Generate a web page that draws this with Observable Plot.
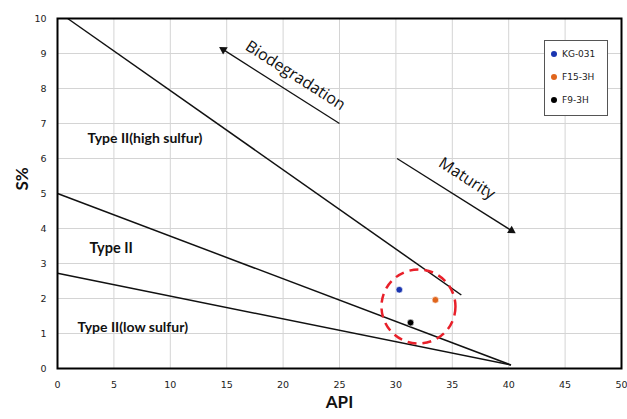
<!DOCTYPE html>
<html><head><meta charset="utf-8">
<script src="https://cdn.jsdelivr.net/npm/d3@7"></script>
<script src="https://cdn.jsdelivr.net/npm/@observablehq/plot@0.6"></script>
<style>
body{margin:0;background:#fff;}
#wrap{position:relative;width:627px;height:419px;}
#legend{position:absolute;left:544px;top:40px;width:64px;height:76px;border:1px solid #555;background:#fff;font:9px "DejaVu Sans",sans-serif;color:#222;box-sizing:border-box;}
#legend div{position:absolute;left:6px;height:10px;line-height:10px;white-space:nowrap;}
#legend span{display:inline-block;width:6px;height:6px;border-radius:50%;margin-right:5px;vertical-align:0px;}
</style></head>
<body><div id="wrap"><div id="legend"></div></div>
<script>
const xTicks = [0,5,10,15,20,25,30,35,40,45,50];
const yTicks = [0,1,2,3,4,5,6,7,8,9,10];

const lineName = ["Type II(high sulfur) boundary","Type II boundary","Type II(low sulfur) boundary"];
const lineX1 = [0.9, 0, 0];
const lineY1 = [10, 5, 2.72];
const lineX2 = [35.8, 40.2, 40.2];
const lineY2 = [2.1, 0.1, 0.1];

const sampleName = ["KG-031","F15-3H","F9-3H"];
const sampleAPI = [30.3, 33.5, 31.3];
const sampleS = [2.25, 1.96, 1.31];
const sampleColor = ["#1a35b0","#e0651c","#000000"];

const zoneLabel = ["Type II(high sulfur)","Type II","Type II(low sulfur)"];
const zoneX = [2.66, 2.84, 1.77];
const zoneY = [6.57, 3.43, 1.17];
const zoneSize = [14, 14.5, 14];

const arrowName = ["Biodegradation","Maturity"];
const arrowX1 = [25.0, 30.1];
const arrowY1 = [7.0, 6.0];
const arrowX2 = [14.7, 40.25];
const arrowY2 = [9.11, 3.94];
const arrowLabelX = [21.1, 36.3];
const arrowLabelY = [8.37, 5.43];
const arrowHeadRotate = [-57.5, 122.3];

const circleAPI = [32.0];
const circleS = [1.77];

const lines = lineName.map((n,i)=>({n,x1:lineX1[i],y1:lineY1[i],x2:lineX2[i],y2:lineY2[i]}));
const samples = sampleName.map((n,i)=>({n,x:sampleAPI[i],y:sampleS[i],c:sampleColor[i]}));
const zones = zoneLabel.map((t,i)=>({t,x:zoneX[i],y:zoneY[i],s:zoneSize[i]}));
const arrows = arrowName.map((n,i)=>({n,x1:arrowX1[i],y1:arrowY1[i],x2:arrowX2[i],y2:arrowY2[i],lx:arrowLabelX[i],ly:arrowLabelY[i],r:arrowHeadRotate[i]}));

const chart = Plot.plot({
  width: 627, height: 419,
  marginLeft: 57, marginRight: 6, marginTop: 18, marginBottom: 51,
  style: {fontFamily: "DejaVu Sans, sans-serif", fontSize: "9.5px", color: "#222", background: "#fff"},
  x: {domain: [0,50], ticks: xTicks, label: null, tickSize: 0, tickPadding: 13},
  y: {domain: [0,10], ticks: yTicks, label: null, tickSize: 0, tickPadding: 11},
  marks: [
    Plot.gridX(xTicks, {stroke: "#d4d4d4", strokeOpacity: 1}),
    Plot.gridY(yTicks, {stroke: "#d4d4d4", strokeOpacity: 1}),
    Plot.link(lines, {x1:"x1", y1:"y1", x2:"x2", y2:"y2", stroke:"#111", strokeWidth:1.5}),
    Plot.link(arrows, {x1:"x1", y1:"y1", x2:"x2", y2:"y2", stroke:"#111", strokeWidth:1.3}),
    Plot.dot(arrows, {x:"x2", y:"y2", symbol:"triangle", r:3.2, fill:"#111", rotate:"r"}),
    Plot.text(arrows, {x:"lx", y:"ly", text:"n", rotate:32.5, fontSize:16, fontFamily:"Open Sans, sans-serif", fill:"#111"}),
    Plot.text(zones, {x:"x", y:"y", text:"t", fontSize:"s", fontWeight:"bold", textAnchor:"start", fontFamily:"Lato, sans-serif", fill:"#111"}),
    Plot.dot(circleAPI.map((x,i)=>({x, y:circleS[i]})), {x:"x", y:"y", r:37, stroke:"#e8202a", strokeWidth:2.5, strokeDasharray:"9,6", fill:"none"}),
    Plot.dot(samples, {x:"x", y:"y", r:3.3, fill:"c", stroke:"#fff", strokeWidth:0.6}),
    Plot.frame({stroke:"#000", strokeWidth:2}),
    Plot.text(["API"], {frameAnchor:"bottom", dy:39, text:d=>d, fontSize:17, fontWeight:"bold", fontFamily:"Lato, sans-serif", fill:"#111"}),
    Plot.text(["S%"], {frameAnchor:"left", dx:-35, dy:-3, rotate:-90, text:d=>d, fontSize:17, fontWeight:"bold", fontFamily:"Lato, sans-serif", fill:"#111"})
  ]
});
const wrap = document.getElementById("wrap");
wrap.insertBefore(chart, wrap.firstChild);
chart.style.display = "block";
const lg = document.getElementById("legend");
samples.forEach((s,i)=>{
  const d = document.createElement("div");
  d.style.top = (8 + i*23) + "px";
  d.innerHTML = `<span style="background:${s.c}"></span>${s.n}`;
  lg.appendChild(d);
});
</script></body></html>
